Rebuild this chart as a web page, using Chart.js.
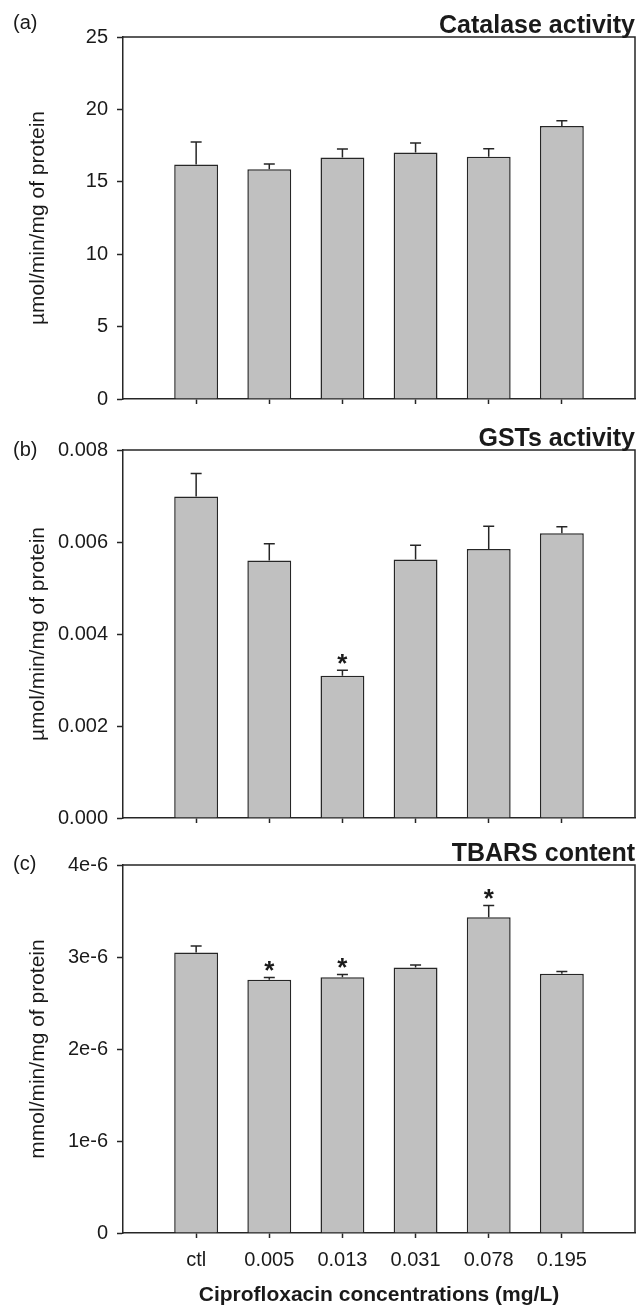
<!DOCTYPE html>
<html>
<head>
<meta charset="utf-8">
<script src="https://cdn.jsdelivr.net/npm/chart.js@4.4.1/dist/chart.umd.min.js"></script>
<style>
  html, body { margin: 0; padding: 0; background: #ffffff; }
  #wrap { position: relative; width: 643px; height: 1308px; }
  .panel { position: absolute; left: 0; width: 643px; }
</style>
</head>
<body>
<div id="wrap">
  <div class="panel" style="top:0;height:420px"><canvas id="cA"></canvas></div>
  <div class="panel" style="top:420px;height:420px"><canvas id="cB"></canvas></div>
  <div class="panel" style="top:840px;height:468px"><canvas id="cC"></canvas></div>
</div>
<script>
// ---------- data ----------
const categories = ['ctl', '0.005', '0.013', '0.031', '0.078', '0.195'];
const xTitle = 'Ciprofloxacin concentrations (mg/L)';

const catalaseMean = [16.20, 15.87, 16.68, 17.02, 16.73, 18.86];
const catalaseErr  = [1.55, 0.36, 0.59, 0.66, 0.56, 0.36];
const catalaseSig  = [false, false, false, false, false, false];
const catalaseTicks = [0, 5, 10, 15, 20, 25];
const catalaseTickLabels = ['0', '5', '10', '15', '20', '25'];

const gstMean = [0.00699, 0.00560, 0.00309, 0.00562, 0.00585, 0.00619];
const gstErr  = [0.00050, 0.00036, 0.00012, 0.00031, 0.00049, 0.00014];
const gstSig  = [false, false, true, false, false, false];
const gstTicks = [0, 0.002, 0.004, 0.006, 0.008];
const gstTickLabels = ['0.000', '0.002', '0.004', '0.006', '0.008'];

const tbarsMean = [3.050e-6, 2.752e-6, 2.781e-6, 2.887e-6, 3.431e-6, 2.818e-6];
const tbarsErr  = [0.070e-6, 0.026e-6, 0.029e-6, 0.025e-6, 0.130e-6, 0.025e-6];
const tbarsSig  = [false, true, true, false, true, false];
const tbarsTicks = [0, 1e-6, 2e-6, 3e-6, 4e-6];
const tbarsTickLabels = ['0', '1e-6', '2e-6', '3e-6', '4e-6'];

// ---------- style ----------
const FONT = '"Liberation Sans", Arial, Helvetica, sans-serif';
const INK = '#1a1a1a';
const LINE = '#262626';
const BAR = '#c0c0c0';

function makePanel(id, cfg) {
  const points = cfg.mean.map((v, i) => ({ x: i + 1, y: v }));
  const decor = {
    id: 'panelDecor_' + id,
    afterDraw(chart) {
      const ctx = chart.ctx, a = chart.chartArea;
      const xs = chart.scales.x, ys = chart.scales.y;
      ctx.save();
      ctx.strokeStyle = LINE;
      ctx.lineWidth = 1.5;
      // frame: top and right
      ctx.beginPath();
      ctx.moveTo(a.left, a.top);
      ctx.lineTo(a.right, a.top);
      ctx.lineTo(a.right, a.bottom);
      ctx.stroke();
      // error bars (upper) and significance marks
      cfg.mean.forEach((m, i) => {
        const px = xs.getPixelForValue(i + 1);
        const y0 = ys.getPixelForValue(m);
        const y1 = ys.getPixelForValue(m + cfg.err[i]);
        ctx.beginPath();
        ctx.moveTo(px, y0);
        ctx.lineTo(px, y1);
        ctx.moveTo(px - 5.5, y1);
        ctx.lineTo(px + 5.5, y1);
        ctx.stroke();
        if (cfg.sig[i]) {
          ctx.font = 'bold 26px ' + FONT;
          ctx.fillStyle = INK;
          ctx.textAlign = 'center';
          ctx.textBaseline = 'alphabetic';
          ctx.fillText('*', px, y1 + 2);
        }
      });
      // panel title
      ctx.fillStyle = INK;
      ctx.font = 'bold 25px ' + FONT;
      ctx.textAlign = 'right';
      ctx.textBaseline = 'alphabetic';
      ctx.fillText(cfg.title, a.right, a.top - 4);
      // panel letter
      ctx.font = '20px ' + FONT;
      ctx.textAlign = 'left';
      ctx.textBaseline = 'middle';
      ctx.fillText(cfg.letter, 13, a.top + cfg.letterDy);
      ctx.restore();
    }
  };

  return new Chart(document.getElementById(id), {
    type: 'bar',
    data: {
      datasets: [{
        data: points,
        backgroundColor: BAR,
        borderColor: LINE,
        borderWidth: 1.5,
        barPercentage: 0.6,
        categoryPercentage: 1.0
      }]
    },
    options: {
      responsive: true,
      maintainAspectRatio: false,
      animation: false,
      layout: { padding: { left: 0, right: 8, top: cfg.padTop, bottom: 0 } },
      plugins: { legend: { display: false }, tooltip: { enabled: false }, title: { display: false } },
      scales: {
        x: {
          type: 'linear',
          min: 0,
          max: categories.length + 1,
          offset: false,
          afterBuildTicks: ax => { ax.ticks = categories.map((c, i) => ({ value: i + 1 })); },
          afterFit: ax => { ax.height = cfg.xHeight; },
          grid: { display: true, drawOnChartArea: false, drawTicks: true, tickLength: 5, tickColor: LINE, tickWidth: 1.5, offset: false },
          border: { display: true, color: LINE, width: 1.5 },
          ticks: {
            display: cfg.showX,
            padding: 10,
            color: INK,
            autoSkip: false,
            maxRotation: 0,
            font: { family: FONT, size: 20 },
            callback: (v) => categories[Math.round(v) - 1] ?? ''
          },
          title: {
            display: cfg.showX,
            text: xTitle,
            color: INK,
            font: { family: FONT, size: 21, weight: 'bold' },
            padding: { top: 0, bottom: 0 }
          }
        },
        y: {
          min: 0,
          max: cfg.ticks[cfg.ticks.length - 1],
          afterBuildTicks: ax => { ax.ticks = cfg.ticks.map(v => ({ value: v })); },
          afterFit: ax => { ax.width = 123; },
          grid: { drawOnChartArea: false, drawTicks: true, tickLength: 6, tickColor: LINE, tickWidth: 1.5 },
          border: { display: true, color: LINE, width: 1.5 },
          ticks: {
            padding: 9,
            color: INK,
            font: { family: FONT, size: 20 },
            callback: (v, i) => cfg.tickLabels[i]
          },
          title: {
            display: true,
            text: cfg.yTitle,
            color: INK,
            font: { family: FONT, size: 21 },
            padding: { top: 26, bottom: 0 }
          }
        }
      }
    },
    plugins: [decor]
  });
}

makePanel('cA', {
  mean: catalaseMean, err: catalaseErr, sig: catalaseSig,
  ticks: catalaseTicks, tickLabels: catalaseTickLabels,
  yTitle: 'µmol/min/mg of protein', title: 'Catalase activity', letter: '(a)', letterDy: -14,
  padTop: 37, xHeight: 15, showX: false
});
makePanel('cB', {
  mean: gstMean, err: gstErr, sig: gstSig,
  ticks: gstTicks, tickLabels: gstTickLabels,
  yTitle: 'µmol/min/mg of protein', title: 'GSTs activity', letter: '(b)', letterDy: 0,
  padTop: 30, xHeight: 22, showX: false
});
makePanel('cC', {
  mean: tbarsMean, err: tbarsErr, sig: tbarsSig,
  ticks: tbarsTicks, tickLabels: tbarsTickLabels,
  yTitle: 'mmol/min/mg of protein', title: 'TBARS content', letter: '(c)', letterDy: -1,
  padTop: 25, xHeight: 75, showX: true
});
</script>
</body>
</html>
